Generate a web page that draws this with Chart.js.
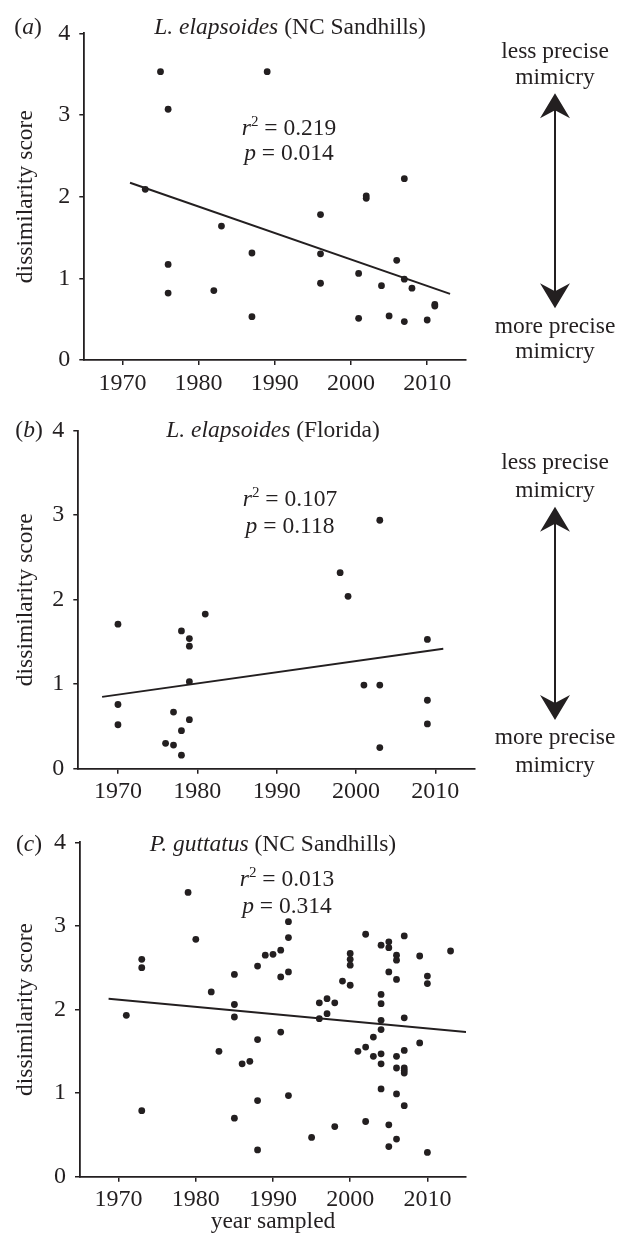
<!DOCTYPE html>
<html>
<head>
<meta charset="utf-8">
<script src="https://cdn.jsdelivr.net/npm/chart.js@4"></script>
<style>
  html, body { margin: 0; padding: 0; background: #fff; }
  #wrap { position: relative; width: 619px; height: 1236px; overflow: hidden; background: #fff; }
  #wrap canvas { position: absolute; left: 0; }
</style>
</head>
<body>
<div id="wrap">
  <canvas id="chartA"></canvas>
  <canvas id="chartB"></canvas>
  <canvas id="chartC"></canvas>
</div>
<script>
// axis ticks shared by all three panels
var yearTicks = [1970, 1980, 1990, 2000, 2010];
var scoreTicks = [0, 1, 2, 3, 4];

// (a) L. elapsoides, NC Sandhills
var yearsA  = [1973, 1975, 1976, 1976, 1976, 1982, 1983, 1987, 1987, 1989, 1996, 1996, 1996, 2001,
               2001, 2002, 2002, 2004, 2005, 2006, 2007, 2007, 2007, 2008, 2010, 2011, 2011];
var scoresA = [2.09, 3.53, 3.07, 1.17, 0.82, 0.85, 1.64, 1.31, 0.53, 3.53, 1.78, 1.30, 0.94, 1.06,
               0.51, 2.01, 1.98, 0.91, 0.54, 1.22, 2.22, 0.99, 0.47, 0.88, 0.49, 0.68, 0.66];
var fitYearsA  = [1971, 2013];
var fitScoresA = [2.17, 0.81];
var statsA = ['0.219', '0.014'];

// (b) L. elapsoides, Florida
var yearsB  = [1970, 1970, 1970, 1976, 1977, 1977, 1978, 1978, 1978, 1979, 1979, 1979, 1979, 1981,
               1998, 1999, 2001, 2003, 2003, 2003, 2009, 2009, 2009];
var scoresB = [1.71, 0.76, 0.52, 0.30, 0.67, 0.28, 1.63, 0.45, 0.16, 1.54, 1.45, 1.03, 0.58, 1.83,
               2.32, 2.04, 0.99, 2.94, 0.99, 0.25, 1.53, 0.81, 0.53];
var fitYearsB  = [1968, 2011];
var fitScoresB = [0.85, 1.42];
var statsB = ['0.107', '0.118'];

// (c) P. guttatus, NC Sandhills
var yearsC  = [1971, 1973, 1973, 1973, 1979, 1980, 1982, 1983, 1985, 1985, 1985, 1985, 1986, 1987,
               1988, 1988, 1988, 1988, 1989, 1990, 1991, 1991, 1991, 1992, 1992, 1992, 1992, 1995,
               1996, 1996, 1997, 1997, 1998, 1998, 1999, 2000, 2000, 2000, 2000, 2001, 2002, 2002,
               2002, 2003, 2003, 2004, 2004, 2004, 2004, 2004, 2004, 2004, 2004, 2005, 2005, 2005,
               2005, 2005, 2006, 2006, 2006, 2006, 2006, 2006, 2006, 2007, 2007, 2007, 2007, 2007,
               2007, 2007, 2009, 2009, 2010, 2010, 2010, 2013];
var scoresC = [1.93, 2.60, 2.50, 0.79, 3.40, 2.84, 2.21, 1.50, 2.42, 2.06, 1.91, 0.70, 1.35, 1.38,
               2.52, 1.64, 0.91, 0.32, 2.65, 2.66, 2.71, 2.39, 1.73, 3.05, 2.86, 2.45, 0.97, 0.47,
               2.08, 1.89, 2.13, 1.95, 2.08, 0.60, 2.34, 2.67, 2.60, 2.53, 2.29, 1.50, 2.90, 1.55,
               0.66, 1.67, 1.44, 2.77, 2.18, 2.07, 1.87, 1.76, 1.47, 1.35, 1.05, 2.81, 2.74, 2.45,
               0.62, 0.36, 2.65, 2.59, 2.36, 1.44, 1.30, 0.99, 0.45, 2.88, 1.90, 1.51, 1.30, 1.27,
               1.24, 0.85, 2.64, 1.60, 2.40, 2.31, 0.29, 2.70];
var fitYearsC  = [1968.7, 2015];
var fitScoresC = [2.13, 1.73];
var statsC = ['0.013', '0.314'];

var ink = '#231f20';
var serif = '"Liberation Serif", "Times New Roman", serif';

function toPoints(xs, ys) {
    return xs.map(function (x, i) { return { x: x, y: ys[i] }; });
}

// layout of each panel, in page pixels
var panels = [
    {
        id: 'chartA', letter: 'a', species: 'L. elapsoides', place: ' (NC Sandhills)',
        years: yearsA, scores: scoresA, fitYears: fitYearsA, fitScores: fitScoresA, stats: statsA,
        top: 0, height: 400, area: { left: 84.3, top: 33.3, right: 465.3, bottom: 360 },
        titleX: 290, titleY: 34, letterX: 28,
        statX: 289, statY: [135, 160],
        arrow: { x: 555, less: 57.8, mim1: 84.3, tipTop: 93.3, tipBot: 308.3, more: 332.7, mim2: 358 },
        xTitle: ''
    },
    {
        id: 'chartB', letter: 'b', species: 'L. elapsoides', place: ' (Florida)',
        years: yearsB, scores: scoresB, fitYears: fitYearsB, fitScores: fitScoresB, stats: statsB,
        top: 395, height: 410, area: { left: 78.3, top: 430.7, right: 475, bottom: 768.7 },
        titleX: 273, titleY: 437.3, letterX: 29,
        statX: 290, statY: [506, 532.7],
        arrow: { x: 555, less: 468.7, mim1: 497, tipTop: 506.7, tipBot: 720, more: 743.7, mim2: 772 },
        xTitle: ''
    },
    {
        id: 'chartC', letter: 'c', species: 'P. guttatus', place: ' (NC Sandhills)',
        years: yearsC, scores: scoresC, fitYears: fitYearsC, fitScores: fitScoresC, stats: statsC,
        top: 805, height: 431, area: { left: 80, top: 842.3, right: 466, bottom: 1176.7 },
        titleX: 273, titleY: 850.7, letterX: 29,
        statX: 287, statY: [886, 913.3],
        arrow: null,
        xTitle: 'year sampled'
    }
];

function fontFor(part) {
    return (part.italic ? 'italic ' : '') + (part.sup ? 15 : 23.5) + 'px ' + serif;
}

// draw a line of mixed italic / superscript text centred on cx
function drawRich(ctx, parts, cx, baseline) {
    var total = 0;
    parts.forEach(function (p) {
        ctx.font = fontFor(p);
        p.w = ctx.measureText(p.text).width;
        total += p.w;
    });
    var x = cx - total / 2;
    parts.forEach(function (p) {
        ctx.font = fontFor(p);
        ctx.fillText(p.text, x, baseline - (p.sup ? 9 : 0));
        x += p.w;
    });
}

function arrowHead(ctx, x, tipY, dir) {
    ctx.beginPath();
    ctx.moveTo(x, tipY);
    ctx.lineTo(x + 15, tipY + dir * 25);
    ctx.lineTo(x, tipY + dir * 17);
    ctx.lineTo(x - 15, tipY + dir * 25);
    ctx.closePath();
    ctx.fill();
}

function makeAnnotations(panel) {
    return {
        id: 'annotate',
        afterDraw: function (chart) {
            var ctx = chart.ctx;
            var off = panel.top;
            ctx.save();
            ctx.fillStyle = ink;
            ctx.strokeStyle = ink;
            ctx.textBaseline = 'alphabetic';
            ctx.textAlign = 'left';

            drawRich(ctx, [{ text: '(' }, { text: panel.letter, italic: true }, { text: ')' }],
                panel.letterX, panel.titleY - off);

            drawRich(ctx, [{ text: panel.species, italic: true }, { text: panel.place }],
                panel.titleX, panel.titleY - off);

            drawRich(ctx, [{ text: 'r', italic: true }, { text: '2', sup: true }, { text: ' = ' + panel.stats[0] }],
                panel.statX, panel.statY[0] - off);
            drawRich(ctx, [{ text: 'p', italic: true }, { text: ' = ' + panel.stats[1] }],
                panel.statX, panel.statY[1] - off);

            var a = panel.arrow;
            if (a) {
                drawRich(ctx, [{ text: 'less precise' }], a.x, a.less - off);
                drawRich(ctx, [{ text: 'mimicry' }], a.x, a.mim1 - off);
                drawRich(ctx, [{ text: 'more precise' }], a.x, a.more - off);
                drawRich(ctx, [{ text: 'mimicry' }], a.x, a.mim2 - off);
                ctx.lineWidth = 2;
                ctx.beginPath();
                ctx.moveTo(a.x, a.tipTop - off + 12);
                ctx.lineTo(a.x, a.tipBot - off - 12);
                ctx.stroke();
                arrowHead(ctx, a.x, a.tipTop - off, 1);
                arrowHead(ctx, a.x, a.tipBot - off, -1);
            }
            ctx.restore();
        }
    };
}

function buildChart(panel) {
    var canvas = document.getElementById(panel.id);
    canvas.width = 619;
    canvas.height = panel.height;
    canvas.style.top = panel.top + 'px';

    var area = panel.area;
    var padLeft = 10;
    var yWidth = area.left - padLeft;
    var xHeight = panel.top + panel.height - area.bottom;

    return new Chart(canvas.getContext('2d'), {
        type: 'scatter',
        data: {
            datasets: [{
                data: toPoints(panel.years, panel.scores),
                backgroundColor: ink,
                borderWidth: 0,
                pointRadius: 3.4,
                pointHoverRadius: 3.4
            }, {
                data: toPoints(panel.fitYears, panel.fitScores),
                showLine: true,
                borderColor: ink,
                borderWidth: 2,
                pointRadius: 0,
                fill: false
            }]
        },
        options: {
            responsive: false,
            animation: false,
            layout: {
                padding: {
                    left: padLeft,
                    right: 619 - area.right,
                    top: area.top - panel.top,
                    bottom: 0
                }
            },
            plugins: {
                legend: { display: false },
                tooltip: { enabled: false }
            },
            scales: {
                x: {
                    type: 'linear',
                    min: 1965,
                    max: 2015,
                    afterBuildTicks: function (s) { s.ticks = yearTicks.map(function (v) { return { value: v }; }); },
                    afterFit: function (s) { s.height = xHeight; },
                    grid: { drawOnChartArea: false, drawTicks: true, tickLength: 5, color: ink, lineWidth: 1.5 },
                    border: { display: true, color: ink, width: 1.8 },
                    ticks: {
                        color: ink, padding: 4, maxRotation: 0,
                        font: { family: serif, size: 24 },
                        callback: function (v) { return String(v); }
                    },
                    title: {
                        display: panel.xTitle !== '',
                        text: panel.xTitle,
                        color: ink,
                        font: { family: serif, size: 23.5, lineHeight: 1.2 },
                        padding: { top: 0, bottom: 0 }
                    }
                },
                y: {
                    type: 'linear',
                    min: 0,
                    max: 4,
                    afterBuildTicks: function (s) { s.ticks = scoreTicks.map(function (v) { return { value: v }; }); },
                    afterFit: function (s) { s.width = yWidth; },
                    grid: { drawOnChartArea: false, drawTicks: true, tickLength: 5, color: ink, lineWidth: 1.5 },
                    border: { display: true, color: ink, width: 1.8 },
                    ticks: {
                        color: ink, padding: 9,
                        font: { family: serif, size: 24 },
                        callback: function (v) { return String(v); }
                    },
                    title: {
                        display: true,
                        text: 'dissimilarity score',
                        color: ink,
                        font: { family: serif, size: 23.5, lineHeight: 1.2 },
                        padding: { top: 2, bottom: 0 }
                    }
                }
            }
        },
        plugins: [makeAnnotations(panel)]
    });
}

panels.forEach(buildChart);
</script>
</body>
</html>
